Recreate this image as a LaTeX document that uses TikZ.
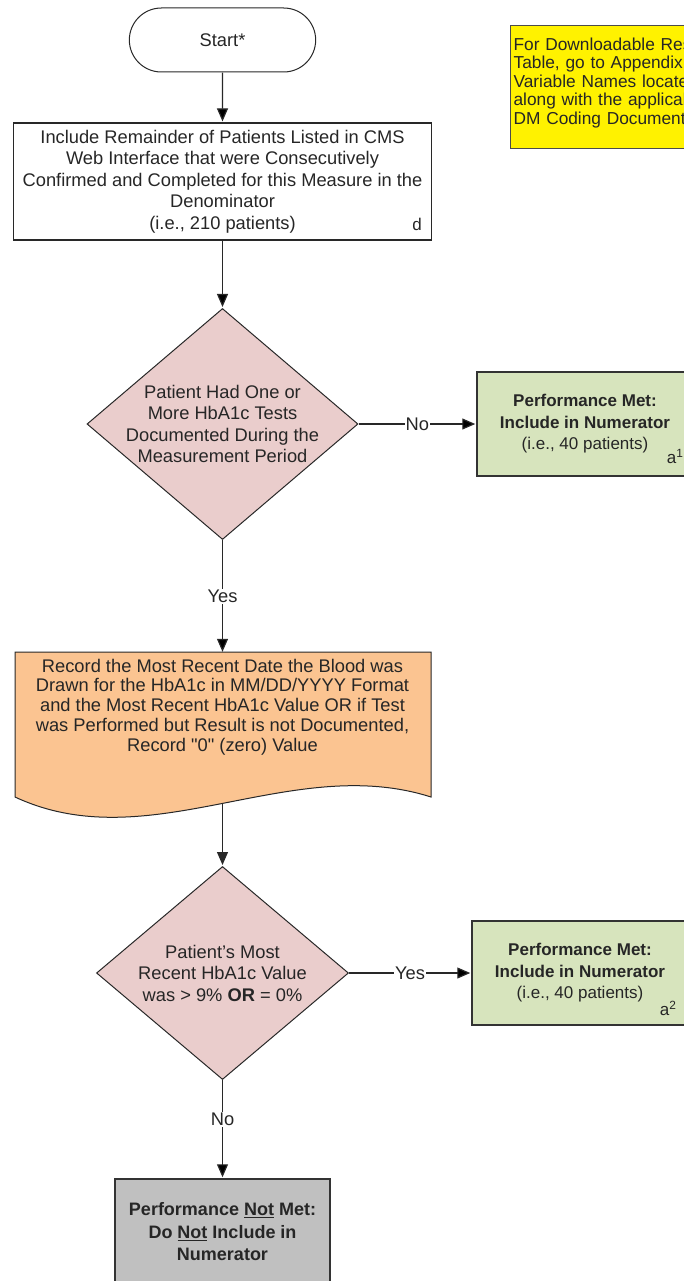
\documentclass[tikz,border=0pt]{standalone}
\usepackage{fontspec}
\setmainfont{Liberation Sans}
\usepackage{tikz}
\usetikzlibrary{arrows.meta, positioning, shapes.geometric, shapes.misc}
\usepackage{xcolor}
\definecolor{boxgreen}{RGB}{215,228,189}
\definecolor{decpink}{RGB}{234,205,204}
\definecolor{docorange}{RGB}{251,196,145}
\definecolor{notgray}{RGB}{192,192,192}
\definecolor{linegray}{RGB}{40,40,40}

\begin{document}
\begin{tikzpicture}[x=1pt,y=-1pt,shorten >=1pt,>={Triangle[length=13pt,width=11pt]},node distance=2cm]
  \tikzstyle{every node}=[font=\fontsize{18.3}{21.5}\selectfont,text=black!85]
  \tikzstyle{term}=[draw=linegray,line width=1pt,rounded rectangle,minimum width=193pt,minimum height=64pt]
  \tikzstyle{proc}=[draw=linegray,line width=1.2pt,align=center,minimum width=418pt,minimum height=117pt]
  \tikzstyle{dec}=[draw=linegray,line width=1pt,diamond,fill=decpink,align=center,inner xsep=-30pt,inner ysep=-12pt]
  \tikzstyle{met}=[draw=black!80,line width=1.5pt,fill=boxgreen,align=center,minimum width=216pt,minimum height=104pt,font=\fontsize{17}{21.5}\selectfont]
  \tikzstyle{lbl}=[fill=white,inner sep=1pt]
  \tikzstyle{supmark}=[anchor=base east,inner sep=0pt,font=\fontsize{17}{17}\selectfont]

  \useasboundingbox (0,0) rectangle (684,1281);
  \clip (0,0) rectangle (684,1281);

  \node[draw=black!70,line width=1.2pt,fill=yellow,anchor=north west,align=left,
        text width=250pt,inner xsep=3pt,inner ysep=12pt,text depth=86pt,
        font=\fontsize{17.3}{18.5}\selectfont] (note) at (510,25)
        {For Downloadable Resource\\ Table, go to Appendix\\ Variable Names located\\ along with the applicable\\ DM Coding Document};

  \node[term]  (start)   at (222.5,40)   {Start*};
  \node[proc]  (denom)   at (222.5,181.5) {Include Remainder of Patients Listed in CMS\\ Web Interface that were Consecutively\\ Confirmed and Completed for this Measure in the\\ Denominator\\ (i.e., 210 patients)};
  \node[supmark] (d_mark) at ([shift={(-10,-10)}]denom.south east) {d};

  \node[dec,minimum width=271pt,minimum height=231pt] (dec_1) at (222.5,424)
        {Patient Had One or\\ More HbA1c Tests\\ Documented During the\\ Measurement Period};
  \node[met]   (met_1) [right of=dec_1,node distance=362.5pt]
        {\textbf{Performance Met:}\\ \textbf{Include in Numerator}\\ (i.e., 40 patients)};
  \node[supmark] (a_1)   at ([shift={(-10,-13)}]met_1.south east) {a\textsuperscript{1}};

  % document shape
  \filldraw[fill=docorange,draw=linegray,line width=1pt]
    (15,652) -- (431,652) -- (431,797) .. controls (290,752) and (150,860) .. (15,797) -- cycle;
  \node[align=center,inner sep=0pt,minimum height=108pt,font=\fontsize{18.3}{19.8}\selectfont] (rec) at (222.5,707)
        {Record the Most Recent Date the Blood was\\ Drawn for the HbA1c in MM/DD/YYYY Format\\ and the Most Recent HbA1c Value OR if Test\\ was Performed but Result is not Documented,\\ Record \textquotedbl 0\textquotedbl{} (zero) Value};
  \coordinate (rec_b) at (222.5,803);

  \node[dec,minimum width=252pt,minimum height=213pt] (dec_2) at (222.5,973)
        {Patient's Most\\ Recent HbA1c Value\\ was > 9\% \textbf{OR} = 0\%};
  \node[met]   (met_2) [right of=dec_2,node distance=357.5pt]
        {\textbf{Performance Met:}\\ \textbf{Include in Numerator}\\ (i.e., 40 patients)};
  \node[supmark] (a_2)   at ([shift={(-12,-10)}]met_2.south east) {a\textsuperscript{2}};

  \node[met,fill=notgray,minimum width=215pt,minimum height=106pt,font=\bfseries\fontsize{18}{22.5}\selectfont] (not_met) at (222.5,1232)
        {Performance \underline{Not} Met:\\ Do \underline{Not} Include in\\ Numerator};

  \path[->,draw=linegray,line width=1.2pt]
  (start) edge                         (denom)
  (denom) edge                         (dec_1)
  (dec_1) edge node[lbl] {No}          (met_1)
  (dec_1) edge node[lbl] {Yes}         (rec)
  (dec_2) edge node[lbl] {Yes}         (met_2)
  (dec_2) edge node[lbl,pos=0.4] {No}  (not_met)
  ;
  \draw[->,draw=linegray,line width=1.2pt] (rec_b) -- (dec_2);
\end{tikzpicture}
\end{document}
